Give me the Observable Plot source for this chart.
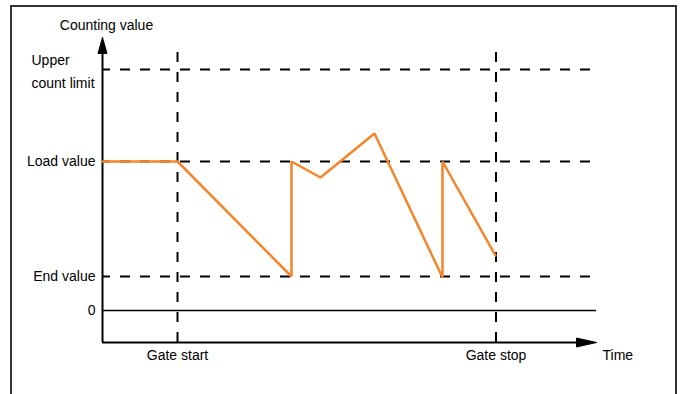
<!DOCTYPE html>
<html>
<head>
<meta charset="utf-8">
<script src="https://cdn.jsdelivr.net/npm/d3@7"></script>
<script src="https://cdn.jsdelivr.net/npm/@observablehq/plot@0.6"></script>
<style>
  html, body { margin: 0; padding: 0; background: #fff; }
  #chart svg { display: block; }
</style>
</head>
<body>
<div id="chart"></div>
<script>
// Reference levels (counting value axis)
const levelLabels = ["Upper count limit", "Load value", "End value", "0"];
const levelValues = [241, 149, 34, 0];

// Gate events (time axis)
const gateLabels = ["Gate start", "Gate stop"];
const gateTimes = [75, 393.5];

// Counter trace
const countTime  = [0,   75,  189, 189, 218, 272, 340, 340, 393];
const countValue = [149, 149, 34,  149, 133, 177, 33,  149, 55];

// Axis extents
const timeAxisEnd = 494;
const valueAxisTop = 273;
const axisOrigin = -32;

const trace = countTime.map((t, i) => ({t, v: countValue[i]}));
const dashed = levelValues.slice(0, 3).map((v, i) => ({v, label: levelLabels[i]}));
const zeroLine = [{v: levelValues[3]}];
const gates = gateTimes.map((t, i) => ({t, label: gateLabels[i]}));

// arrow heads: closed triangles built from the axis extents
const yArrow = [
  {x: 0, y: valueAxisTop},
  {x: -4.5, y: valueAxisTop - 16},
  {x: 4.5, y: valueAxisTop - 16},
  {x: 0, y: valueAxisTop}
];
const xArrow = [
  {x: timeAxisEnd, y: axisOrigin},
  {x: timeAxisEnd - 20, y: axisOrigin - 4.5},
  {x: timeAxisEnd - 20, y: axisOrigin + 4.5},
  {x: timeAxisEnd, y: axisOrigin}
];

const font = "'Liberation Sans', Arial, sans-serif";

const chart = Plot.plot({
  width: 683,
  height: 394,
  margin: 0,
  x: {domain: [-102, 581], range: [0, 683], axis: null},
  y: {domain: [-84, 310], range: [394, 0], axis: null},
  style: {fontFamily: font, fontSize: "14px", background: "#fff"},
  marks: [
    // outer frame
    Plot.rect([{}], {x1: -91, x2: 574, y1: 304, y2: -120, fill: "none", stroke: "#333", strokeWidth: 2}),
    // dashed level lines
    Plot.ruleY(dashed, {y: "v", x1: 0, x2: 495, stroke: "#000", strokeWidth: 2, strokeDasharray: "10,10", strokeDashoffset: 2}),
    // zero line
    Plot.ruleY(zeroLine, {y: "v", x1: 0, x2: 494, stroke: "#000", strokeWidth: 1.5}),
    // gate lines
    Plot.ruleX(gates, {x: "t", y1: 258, y2: axisOrigin, stroke: "#000", strokeWidth: 2, strokeDasharray: "10,10"}),
    // axes
    Plot.ruleX([0], {y1: axisOrigin, y2: valueAxisTop - 10, stroke: "#000", strokeWidth: 2}),
    Plot.ruleY([axisOrigin], {x1: 0, x2: timeAxisEnd - 12, stroke: "#000", strokeWidth: 2}),
    Plot.line(yArrow, {x: "x", y: "y", fill: "#000", stroke: "#000", strokeWidth: 1}),
    Plot.line(xArrow, {x: "x", y: "y", fill: "#000", stroke: "#000", strokeWidth: 1}),
    // counter trace
    Plot.line(trace, {x: "t", y: "v", stroke: "#f5842a", strokeWidth: 2.5, strokeLinejoin: "miter", curve: "linear"}),
    // level labels
    Plot.text([{v: levelValues[0]}], {x: -71, y: "v", text: () => "Upper\ncount limit", textAnchor: "start", lineHeight: 1.6, fill: "#000"}),
    Plot.text(levelValues.slice(1).map((v, i) => ({v, label: levelLabels[i + 1]})), {x: -7, y: "v", text: "label", textAnchor: "end", fill: "#000"}),
    // gate labels
    Plot.text(gates, {x: "t", y: axisOrigin, dy: 13, text: "label", fill: "#000"}),
    // axis titles
    Plot.text(["Counting value"], {x: 4, y: valueAxisTop, dy: -12, text: d => d, fill: "#000"}),
    Plot.text(["Time"], {x: timeAxisEnd + 6, y: axisOrigin, dy: 13, text: d => d, textAnchor: "start", fill: "#000"})
  ]
});
document.getElementById("chart").append(chart);
</script>
</body>
</html>
